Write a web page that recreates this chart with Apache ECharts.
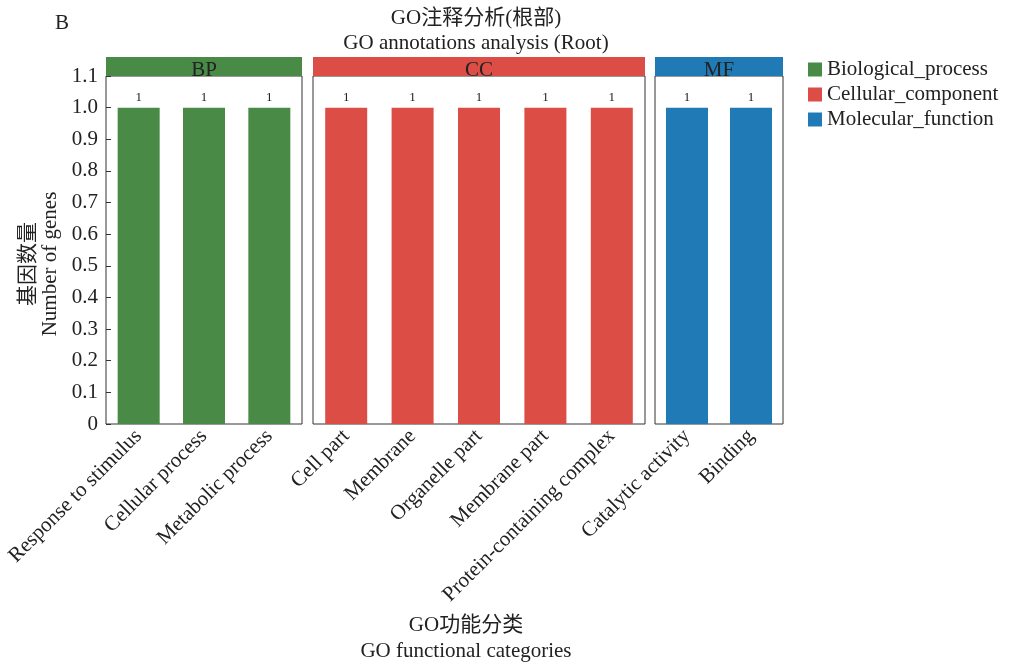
<!DOCTYPE html>
<html>
<head>
<meta charset="utf-8">
<style>
  html, body { margin: 0; padding: 0; background: #fff; }
  #chart { width: 1009px; height: 663px; }
</style>
<script src="https://cdn.jsdelivr.net/npm/echarts@6/dist/echarts.min.js"></script>
</head>
<body>
<div id="chart"></div>
<script>
// GO categories per ontology and their gene counts
const bpCategories = ['Response to stimulus', 'Cellular process', 'Metabolic process'];
const ccCategories = ['Cell part', 'Membrane', 'Organelle part', 'Membrane part', 'Protein-containing complex'];
const mfCategories = ['Catalytic activity', 'Binding'];
const bpValues = [1, 1, 1];
const ccValues = [1, 1, 1, 1, 1];
const mfValues = [1, 1];
const panelNames = ['BP', 'CC', 'MF'];
const seriesNames = ['Biological_process', 'Cellular_component', 'Molecular_function'];
const yTicks = [0, 0.1, 0.2, 0.3, 0.4, 0.5, 0.6, 0.7, 0.8, 0.9, 1.0, 1.1];

const colors = ['#488a46', '#dc4d45', '#207ab5'];
const serif = '"Liberation Serif", "Times New Roman", "Noto Sans CJK SC", serif';
const txt = '#222';
const fs = 21;

const plotTop = 76, plotBottom = 424;
const panels = [
  { left: 106, width: 196, cats: bpCategories, vals: bpValues },
  { left: 313, width: 332, cats: ccCategories, vals: ccValues },
  { left: 655, width: 128, cats: mfCategories, vals: mfValues }
];

const chart = echarts.init(document.getElementById('chart'));

const grids = panels.map(p => ({
  left: p.left, width: p.width, top: plotTop, height: plotBottom - plotTop,
  show: true, borderColor: '#333', borderWidth: 1, backgroundColor: 'transparent'
}));

const xAxes = panels.map((p, i) => ({
  type: 'category', gridIndex: i, data: p.cats,
  axisLine: { show: false }, axisTick: { show: false },
  axisLabel: {
    interval: 0, rotate: 45, margin: 9,
    fontFamily: serif, fontSize: fs, color: txt
  }
}));

const yAxes = panels.map((p, i) => ({
  type: 'value', gridIndex: i, min: yTicks[0], max: yTicks[yTicks.length - 1], interval: 0.1,
  splitLine: { show: false },
  axisLine: { show: false },
  axisTick: { show: i === 0, inside: true, length: 5, lineStyle: { color: '#333' } },
  axisLabel: {
    show: i === 0, margin: 8, fontFamily: serif, fontSize: fs, color: txt,
    formatter: v => (Math.abs(v) < 1e-9 ? '0' : v.toFixed(1))
  }
}));

const series = panels.map((p, i) => ({
  name: seriesNames[i], type: 'bar', xAxisIndex: i, yAxisIndex: i,
  data: p.vals, barWidth: 42,
  itemStyle: { color: colors[i] },
  label: {
    show: true, position: 'top', distance: 4,
    fontFamily: serif, fontSize: 13, color: txt,
    formatter: d => String(d.value)
  }
}));

// facet strips above each panel
const graphics = [];
panels.forEach((p, i) => {
  graphics.push({
    type: 'rect', shape: { x: p.left, y: 57, width: p.width, height: 19 },
    style: { fill: colors[i] }, z: 5
  });
  graphics.push({
    type: 'text', x: p.left + p.width / 2, y: 70, z: 6,
    style: { text: panelNames[i], font: fs + 'px ' + serif, fill: txt, textAlign: 'center', textVerticalAlign: 'middle' }
  });
});

function label(x, y, text, rot) {
  return {
    type: 'text', x: x, y: y, rotation: rot || 0,
    style: { text: text, font: fs + 'px ' + serif, fill: txt, textAlign: 'center', textVerticalAlign: 'middle' }
  };
}

// panel letter, titles and axis names
graphics.push(
  label(62, 23, 'B'),
  label(476, 18, 'GO注释分析(根部)'),
  label(476, 43, 'GO annotations analysis (Root)'),
  label(466, 625, 'GO功能分类'),
  label(466, 651, 'GO functional categories'),
  label(28, 264, '基因数量', Math.PI / 2),
  label(50, 264, 'Number of genes', Math.PI / 2)
);

chart.setOption({
  animation: false,
  backgroundColor: '#fff',
  grid: grids,
  xAxis: xAxes,
  yAxis: yAxes,
  legend: {
    orient: 'vertical', left: 808, top: 59, padding: 0,
    icon: 'rect', itemWidth: 14, itemHeight: 14, itemGap: 4,
    textStyle: { fontFamily: serif, fontSize: fs, color: txt },
    data: seriesNames
  },
  series: series,
  graphic: graphics
});
</script>
</body>
</html>
